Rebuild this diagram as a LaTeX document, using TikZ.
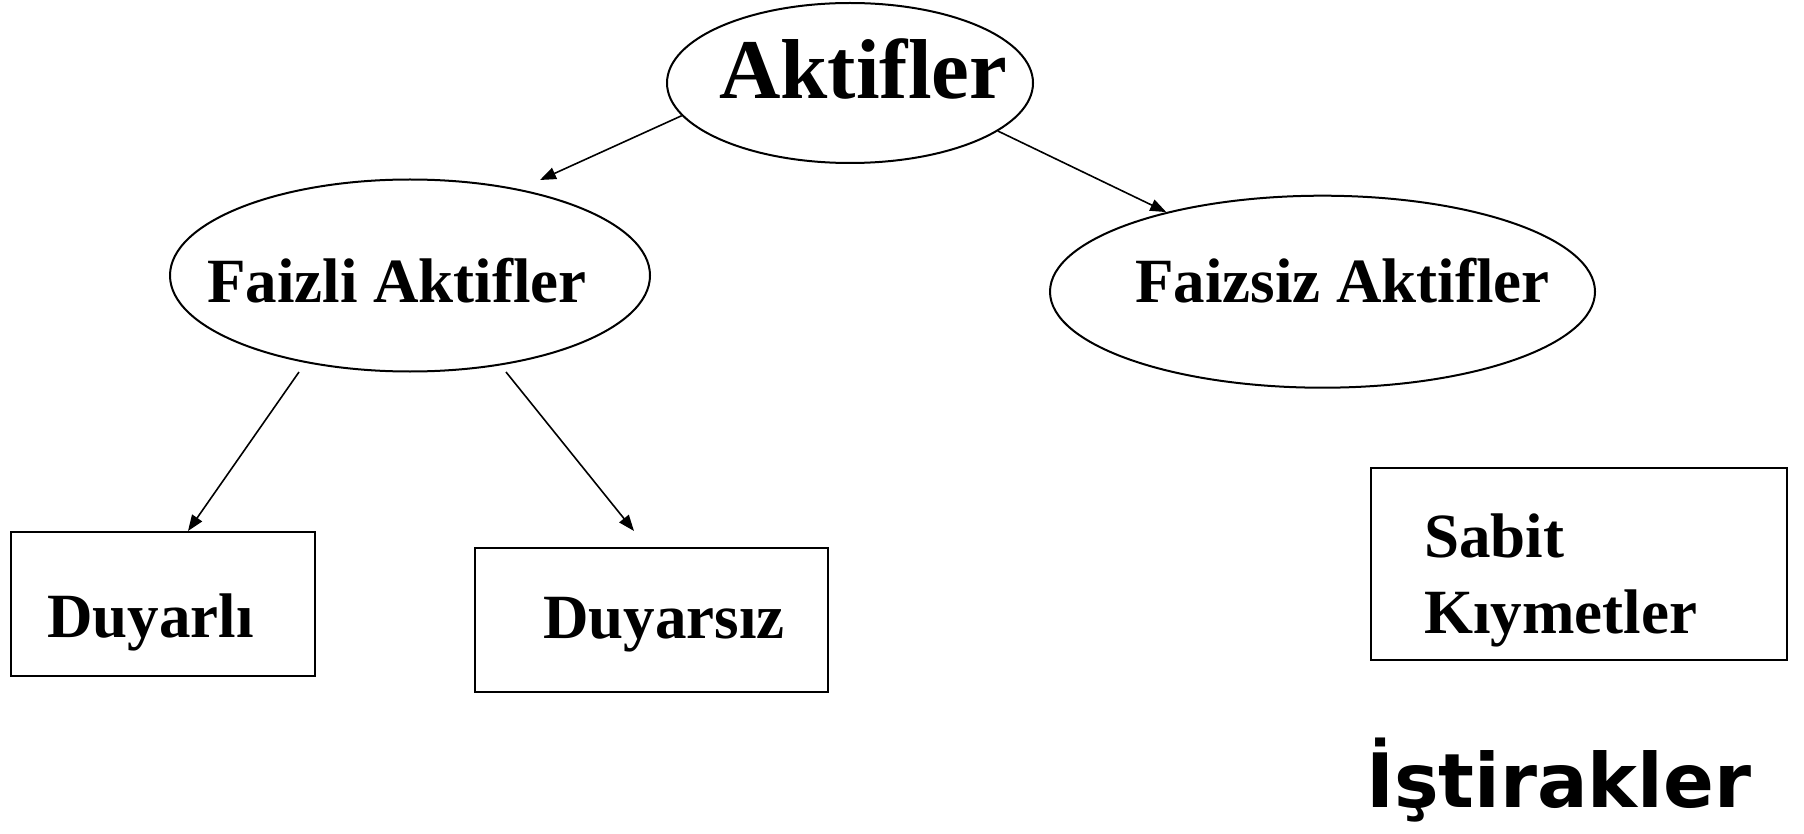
\documentclass[tikz,border=0pt]{standalone}
\usepackage{fontspec}
\setmainfont{Liberation Serif}
\newfontfamily\vfont{DejaVu Sans}
\usetikzlibrary{arrows.meta,shapes.geometric}
\begin{document}
\begin{tikzpicture}[x=1pt,y=-1pt,
  ell/.style={draw, ellipse, line width=2pt, inner sep=0pt},
  box/.style={draw, rectangle, line width=2pt, inner sep=0pt},
  lbl/.style={inner sep=0pt, anchor=base west, font=\bfseries\fontsize{63}{76}\selectfont},
  arr/.style={-{Triangle[length=16pt,width=12pt]}, line width=1.6pt}]
\useasboundingbox (0,0) rectangle (1804,834);
% shapes
\node[ell, minimum width=366pt, minimum height=160pt] (aktifler) at (850,83) {};
\node[ell, minimum width=480pt, minimum height=192pt] (faizli) at (410,275.5) {};
\node[ell, minimum width=545pt, minimum height=192pt] (faizsiz) at (1322.5,291.7) {};
\node[box, minimum width=304pt, minimum height=144pt] (duyarli) at (163,603.5) {};
\node[box, minimum width=353pt, minimum height=144pt] (duyarsiz) at (651,619.7) {};
\node[box, minimum width=416pt, minimum height=192pt] (sabit) at (1578.5,563.5) {};
% texts
\node[lbl, font=\bfseries\fontsize{85}{100}\selectfont] (taktifler) at (719,99) {Aktifler};
\node[lbl] (tfaizli) at (207,302) {Faizli Aktifler};
\node[lbl] (tfaizsiz) at (1135,302) {Faizsiz Aktifler};
\node[lbl] (tduyarli) at (47,637) {Duyarlı};
\node[lbl] (tduyarsiz) at (543,638) {Duyarsız};
\node[lbl] (tsabit) at (1424,557) {Sabit};
\node[lbl] (tkiymet) at (1424,633) {Kıymetler};
\node[inner sep=0pt, anchor=base west, font=\vfont\bfseries\fontsize{75}{85}\selectfont] (istirakler) at (1366,807) {İştirakler};
% free arrow ends
\coordinate (t1) at (540,180);
\coordinate (s3) at (299,372);
\coordinate (t3) at (188,531);
\coordinate (s4) at (506,372);
\coordinate (t4) at (634,531);
% connectors
\draw[arr] (aktifler.191.4) -- (t1);
\draw[arr] (aktifler.342.2) -- (faizsiz.153.3);
\draw[arr] (s3) -- (t3);
\draw[arr] (s4) -- (t4);
\end{tikzpicture}
\end{document}
